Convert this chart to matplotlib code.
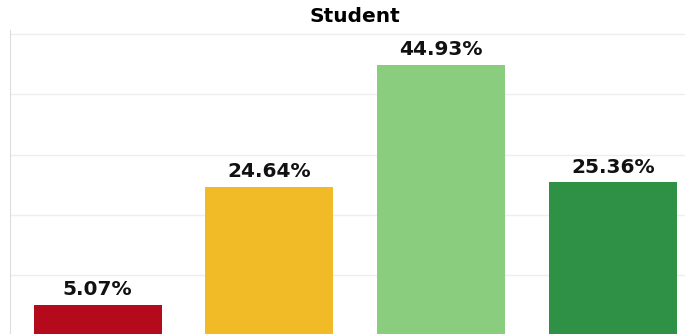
import matplotlib
matplotlib.use("Agg")
import matplotlib.pyplot as plt

categories = ["A", "B", "C", "D"]
values = [5.07, 24.64, 44.93, 25.36]
labels = ["5.07%", "24.64%", "44.93%", "25.36%"]
colors = ["#B50A1C", "#F0BB27", "#8BCD7E", "#2F9146"]

fig = plt.figure(figsize=(6.85, 3.34), dpi=100)
ax = fig.add_axes([10 / 685, -1 / 334, 689 / 685, 305 / 334])

x = range(len(categories))
bars = ax.bar(x, values, width=0.745, color=colors, zorder=2)
for b, lab in zip(bars, labels):
    ax.text(b.get_x() + b.get_width() / 2, b.get_height() + 0.9, lab,
            ha="center", va="bottom", fontsize=14.5, fontweight="bold", color="#111111")

ax.set_xlim(-0.51, 3.5)
ax.set_ylim(0, 50.7)
ax.set_yticks([10, 20, 30, 40, 50])
ax.grid(axis="y", color="#eeeeee", linewidth=1, zorder=0)
ax.tick_params(left=False, bottom=False, labelleft=False, labelbottom=False)
for s in ["top", "right", "bottom"]:
    ax.spines[s].set_visible(False)
ax.spines["left"].set_color("#dddddd")
ax.set_title("Student", fontsize=14.5, fontweight="bold", pad=6)

fig.savefig("out.png", dpi=100)
